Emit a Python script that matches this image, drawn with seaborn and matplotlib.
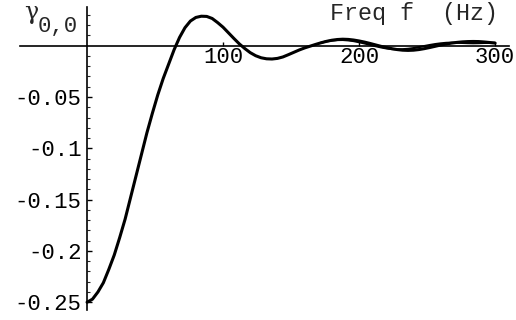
import matplotlib
matplotlib.use("Agg")
import matplotlib.pyplot as plt
import seaborn as sns
import pandas as pd

# ---- data ----
freq = [0, 4, 8, 12, 16, 20, 24, 28, 32, 36, 40, 44, 48, 52, 56, 60, 64, 68, 72, 76,
        80, 84, 88, 92, 96, 100, 104, 108, 112, 116, 120, 124, 128, 132, 136, 140,
        144, 148, 152, 156, 160, 164, 168, 172, 176, 180, 184, 188, 192, 196, 200,
        204, 208, 212, 216, 220, 224, 228, 232, 236, 240, 244, 248, 252, 256, 260,
        264, 268, 272, 276, 280, 284, 288, 292, 296, 300]
gamma = [-0.250, -0.247, -0.240, -0.231, -0.218, -0.204, -0.187, -0.169, -0.148, -0.127,
         -0.106, -0.085, -0.066, -0.048, -0.032, -0.018, -0.004, 0.008, 0.0175, 0.024,
         0.0275, 0.0287, 0.0285, 0.0265, 0.0225, 0.018, 0.0125, 0.007, 0.0017, -0.0028,
         -0.0068, -0.0098, -0.0118, -0.0128, -0.0130, -0.0124, -0.0110, -0.0088, -0.0065,
         -0.0042, -0.0022, -0.0005, 0.0012, 0.0028, 0.0042, 0.0053, 0.0060, 0.0063, 0.0061,
         0.0055, 0.0046, 0.0035, 0.0022, 0.0008, -0.0006, -0.0018, -0.0029, -0.0038,
         -0.0044, -0.0046, -0.0044, -0.0038, -0.0029, -0.0018, -0.0006, 0.0006, 0.0016,
         0.0025, 0.0032, 0.0037, 0.0040, 0.0041, 0.0040, 0.0036, 0.0031, 0.0025]

# second, nearly coincident curve (visible only at high frequency)
freq_b = [172, 176, 180, 184, 188, 192, 196, 200, 204, 208, 212, 216, 220, 224, 228,
          232, 236, 240, 244, 248, 252, 256, 260, 264, 268, 272, 276, 280, 284, 288,
          292, 296, 300]
gamma_b = [0.0028, 0.0042, 0.0050, 0.0055, 0.0056, 0.0052, 0.0045, 0.0034, 0.0022,
           0.0009, -0.0004, -0.0016, -0.0026, -0.0033, -0.0036, -0.0035, -0.0031,
           -0.0024, -0.0014, -0.0004, 0.0006, 0.0015, 0.0022, 0.0027, 0.0029, 0.0029,
           0.0027, 0.0025, 0.0024, 0.0025, 0.0027, 0.0028, 0.0028]

y_ticks = [-0.25, -0.2, -0.15, -0.1, -0.05]
y_tick_labels = ["-0.25", "-0.2", "-0.15", "-0.1", "-0.05"]
x_ticks = [100, 200, 300]
x_tick_labels = ["100", "200", "300"]
x_label = "Freq f  (Hz)"

sns.set_style("white")
mono = ["Liberation Mono", "DejaVu Sans Mono"]

fig = plt.figure(figsize=(5.16, 3.2), dpi=100)
ax = fig.add_axes([0, 0, 1, 1])
ax.set_facecolor("white")

df_a = pd.DataFrame({"f": freq, "g": gamma})
df_b = pd.DataFrame({"f": freq_b, "g": gamma_b})
sns.lineplot(data=df_a, x="f", y="g", color="black", linewidth=2.2, ax=ax, sort=False)
sns.lineplot(data=df_b, x="f", y="g", color="black", linewidth=1.6, ax=ax, sort=False)

ax.set_xlim(-64, 315.4)
ax.set_ylim(-0.2673, 0.0445)

for s in ["top", "right"]:
    ax.spines[s].set_visible(False)
ax.spines["left"].set_position(("data", 0))
ax.spines["bottom"].set_position(("data", 0))
ax.spines["left"].set_bounds(-0.258, 0.0377)
ax.spines["bottom"].set_bounds(-49, 310)
for s in ["left", "bottom"]:
    ax.spines[s].set_linewidth(1.2)
    ax.spines[s].set_color("black")

ax.set_yticks(y_ticks)
ax.set_yticklabels(y_tick_labels, fontfamily=mono, fontsize=16)
ax.set_yticks([-0.24, -0.23, -0.22, -0.21, -0.19, -0.18, -0.17, -0.16, -0.14, -0.13,
               -0.12, -0.11, -0.09, -0.08, -0.07, -0.06, -0.04, -0.03, -0.02, -0.01,
               0.01, 0.02, 0.03], minor=True)
ax.set_xticks(x_ticks)
ax.set_xticklabels(x_tick_labels, fontfamily=mono, fontsize=16)

ax.tick_params(axis="y", which="major", direction="in", length=3.5, width=1.0, pad=4,
               left=True, colors="black")
ax.tick_params(axis="y", which="minor", direction="in", length=2, width=0.8, left=True)
ax.tick_params(axis="x", which="major", direction="in", length=3, width=1.0, pad=1,
               bottom=True, colors="black")
ax.set_xlabel("")
ax.set_ylabel("")
ax.grid(False)

fig.text(330 / 516, 1 - 20 / 320, x_label, fontfamily=mono, fontsize=16.8,
         ha="left", va="baseline")
fig.text(24 / 516, 1 - 19 / 320, "γ", fontfamily=["DejaVu Serif", "Liberation Serif"],
         fontsize=17, ha="left", va="baseline")
fig.text(38 / 516, 1 - 32 / 320, "0,0", fontfamily=mono, fontsize=16,
         ha="left", va="baseline")

fig.savefig("out.png", dpi=100, facecolor="white")
